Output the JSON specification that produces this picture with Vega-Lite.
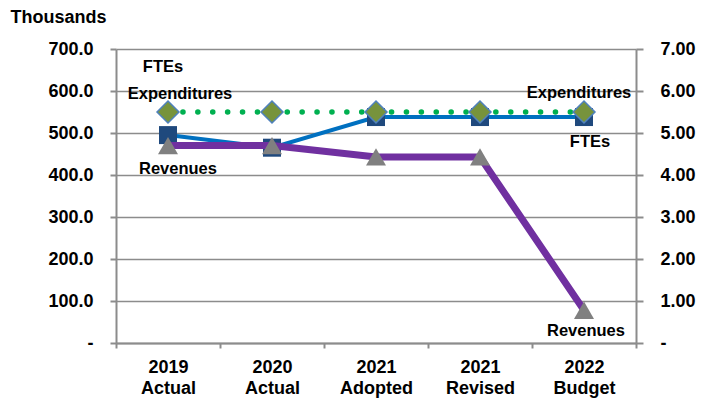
{
  "$schema": "https://vega.github.io/schema/vega-lite/v6.json",
  "autosize": "none",
  "width": 520,
  "height": 294,
  "padding": {"left": 116, "top": 49, "right": 74, "bottom": 60},
  "config": {
    "font": "Liberation Sans",
    "view": {"stroke": null},
    "axis": {
      "labelFont": "Liberation Sans",
      "labelFontWeight": "bold",
      "labelFontSize": 18,
      "labelColor": "#000000",
      "titleFont": "Liberation Sans",
      "titleFontWeight": "bold",
      "titleFontSize": 18,
      "titleColor": "#000000",
      "domainColor": "#8c8c8c",
      "domainWidth": 2,
      "tickColor": "#8c8c8c",
      "tickWidth": 2,
      "gridColor": "#8c8c8c",
      "gridWidth": 1.5
    }
  },
  "datasets": {
    "main": [
      {"cat": "2019 Actual", "series": "Expenditures", "value": 550},
      {"cat": "2020 Actual", "series": "Expenditures", "value": 550},
      {"cat": "2021 Adopted", "series": "Expenditures", "value": 550},
      {"cat": "2021 Revised", "series": "Expenditures", "value": 550},
      {"cat": "2022 Budget", "series": "Expenditures", "value": 550},
      {"cat": "2019 Actual", "series": "Revenues", "value": 470},
      {"cat": "2020 Actual", "series": "Revenues", "value": 470},
      {"cat": "2021 Adopted", "series": "Revenues", "value": 443},
      {"cat": "2021 Revised", "series": "Revenues", "value": 443},
      {"cat": "2022 Budget", "series": "Revenues", "value": 78},
      {"cat": "2019 Actual", "series": "FTEs", "value": 4.95},
      {"cat": "2020 Actual", "series": "FTEs", "value": 4.65},
      {"cat": "2021 Adopted", "series": "FTEs", "value": 5.38},
      {"cat": "2021 Revised", "series": "FTEs", "value": 5.38},
      {"cat": "2022 Budget", "series": "FTEs", "value": 5.38}
    ]
  },
  "data": {"name": "main"},
  "encoding": {
    "x": {
      "field": "cat",
      "type": "ordinal",
      "sort": null,
      "scale": {"type": "band", "paddingInner": 0, "paddingOuter": 0},
      "axis": {
        "title": null,
        "labelAngle": 0,
        "labelExpr": "split(datum.label, ' ')",
        "labelBaseline": "top",
        "labelLineHeight": 21.5,
        "labelPadding": 10,
        "tickSize": 5,
        "tickBand": "extent",
        "domain": true,
        "grid": false
      }
    }
  },
  "layer": [
    {
      "transform": [{"filter": "datum.series == 'FTEs'"}],
      "encoding": {
        "y": {
          "field": "value",
          "type": "quantitative",
          "scale": {"domain": [0, 7], "nice": false, "zero": true},
          "axis": {
            "orient": "right",
            "title": null,
            "values": [0, 1, 2, 3, 4, 5, 6, 7],
            "labelExpr": "datum.value == 0 ? '-' : format(datum.value, '.2f')",
            "labelAlign": "left",
            "labelPadding": 17,
            "tickSize": 7,
            "grid": false
          }
        }
      },
      "layer": [
        {"mark": {"type": "line", "color": "#0070C0", "strokeWidth": 4}},
        {"mark": {"type": "point", "shape": "square", "size": 324, "filled": true, "fill": "#1F497D", "opacity": 1}},
        {
          "transform": [{"filter": "datum.cat == '2019 Actual'"}],
          "mark": {"type": "text", "text": "FTEs", "fontSize": 16.5, "fontWeight": "bold", "color": "#000000", "dx": -5, "dy": -68, "baseline": "middle"}
        },
        {
          "transform": [{"filter": "datum.cat == '2022 Budget'"}],
          "mark": {"type": "text", "text": "FTEs", "fontSize": 16.5, "fontWeight": "bold", "color": "#000000", "dx": 6, "dy": 25, "baseline": "middle"}
        }
      ]
    },
    {
      "transform": [{"filter": "datum.series != 'FTEs'"}],
      "encoding": {
        "y": {
          "field": "value",
          "type": "quantitative",
          "scale": {"domain": [0, 700], "nice": false, "zero": true},
          "axis": {
            "orient": "left",
            "title": "Thousands",
            "titleAngle": 0,
            "titleAlign": "left",
            "titleBaseline": "middle",
            "titleX": -106,
            "titleY": -32,
            "values": [0, 100, 200, 300, 400, 500, 600, 700],
            "labelExpr": "datum.value == 0 ? '-\u00a0' : format(datum.value, '.1f')",
            "labelPadding": 17,
            "tickSize": 6,
            "grid": true
          }
        }
      },
      "layer": [
        {
          "transform": [{"filter": "datum.series == 'Revenues'"}],
          "layer": [
            {"mark": {"type": "line", "color": "#7030A0", "strokeWidth": 7}},
            {"mark": {"type": "point", "shape": "triangle-up", "size": 400, "filled": true, "fill": "#808080", "opacity": 1}},
            {
              "transform": [{"filter": "datum.cat == '2019 Actual'"}],
              "mark": {"type": "text", "text": "Revenues", "fontSize": 16.5, "fontWeight": "bold", "color": "#000000", "dx": 10, "dy": 23, "baseline": "middle"}
            },
            {
              "transform": [{"filter": "datum.cat == '2022 Budget'"}],
              "mark": {"type": "text", "text": "Revenues", "fontSize": 16.5, "fontWeight": "bold", "color": "#000000", "dx": 2, "dy": 21, "baseline": "middle"}
            }
          ]
        },
        {
          "transform": [{"filter": "datum.series == 'Expenditures'"}],
          "layer": [
            {"mark": {"type": "line", "color": "#00B050", "strokeWidth": 5.5, "strokeDash": [0.1, 14.8], "strokeCap": "round"}},
            {"mark": {"type": "point", "shape": "diamond", "size": 484, "filled": true, "fill": "#77933C", "stroke": "#4F81BD", "strokeWidth": 1.5, "opacity": 1}},
            {
              "transform": [{"filter": "datum.cat == '2019 Actual'"}],
              "mark": {"type": "text", "text": "Expenditures", "fontSize": 16.5, "fontWeight": "bold", "color": "#000000", "dx": 12, "dy": -18, "baseline": "middle"}
            },
            {
              "transform": [{"filter": "datum.cat == '2022 Budget'"}],
              "mark": {"type": "text", "text": "Expenditures", "fontSize": 16.5, "fontWeight": "bold", "color": "#000000", "dx": -5, "dy": -19, "baseline": "middle"}
            }
          ]
        }
      ]
    }
  ],
  "resolve": {"scale": {"y": "independent"}, "axis": {"y": "independent"}}
}
